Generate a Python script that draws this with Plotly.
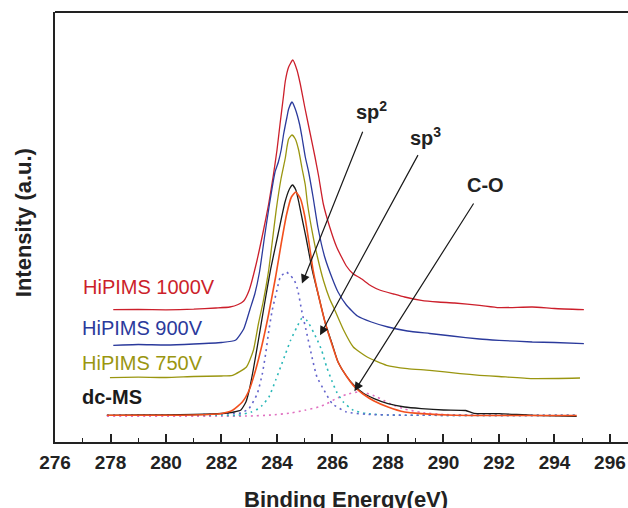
import plotly.graph_objects as go

# ---------------- data (binding energy in eV, intensity in a.u.) ----------------
e_1000 = [278.1, 279.0, 280.0, 281.0, 281.8, 282.3, 282.6, 282.8, 283.0, 283.25, 283.5, 283.7,
          283.87, 284.0, 284.11, 284.23, 284.3, 284.42, 284.57, 284.72, 284.84, 285.0, 285.2,
          285.37, 285.5, 285.67, 285.9, 286.15, 286.5, 286.75, 287.0, 287.4, 287.7, 288.2,
          288.6, 289.2, 289.8, 290.4, 291.3, 292.0, 293.2, 294.0, 295.06]
i_1000 = [132.4, 132.6, 132.2, 132.8, 134, 135, 137.5, 141, 152, 178, 210, 238,
          267, 292, 318, 345, 361, 375, 382, 372, 358, 335, 308,
          285, 266, 238, 215, 195, 176, 168, 164, 156, 152, 148,
          145, 141.7, 140, 139, 136.7, 134.4, 135, 133.5, 132.4]

e_900 = [278.1, 279.0, 280.0, 281.0, 282.0, 282.5, 282.8, 283.03, 283.2, 283.37, 283.55, 283.73,
         283.93, 284.05, 284.15, 284.24, 284.36, 284.42, 284.54, 284.66, 284.82, 284.9, 285.02,
         285.14, 285.3, 285.48, 285.72, 286.0, 286.2, 286.5, 286.9, 287.4, 288.0, 288.7,
         289.5, 290.3, 291.3, 292.0, 293.2, 294.0, 295.06]
i_900 = [96.7, 97.5, 97, 98, 99.5, 101.7, 113, 133, 148, 170, 205, 238,
         270, 280, 292, 308, 325, 333, 340, 333, 317, 305, 285,
         270, 245, 214, 185, 163, 150, 137, 126, 120, 115, 111,
         108.5, 106, 103, 101.7, 100, 99.5, 98.4]

e_750 = [277.98, 279.0, 280.0, 281.0, 282.0, 282.4, 282.9, 283.15, 283.33, 283.5, 283.7, 283.82,
         283.97, 284.15, 284.3, 284.36, 284.42, 284.54, 284.66, 284.78, 284.9, 285.02, 285.1,
         285.26, 285.45, 285.68, 285.9, 286.05, 286.4, 286.75, 287.25, 287.95, 288.7, 289.5,
         290.6, 291.3, 292.0, 293.2, 294.92]
i_750 = [64.4, 64.8, 64.5, 65.5, 66, 66.7, 75, 91.7, 118, 140, 171.7, 198,
         231.7, 264, 284, 295, 303, 307, 303, 292, 274, 257, 238,
         211.7, 186, 161, 143, 134, 112, 95, 85, 76.7, 73.4, 71.7,
         68.4, 66.7, 65.5, 63.4, 64]

e_dc = [277.87, 279.0, 280.0, 281.0, 282.0, 282.45, 282.7, 282.88, 283.0, 283.15, 283.35, 283.55,
        283.78, 284.04, 284.29, 284.45, 284.56, 284.68, 284.8, 284.93, 285.05, 285.27, 285.5,
        285.75, 286.0, 286.2, 286.5, 286.8, 287.1, 287.5, 288.0, 288.6, 289.2, 290.0, 290.8,
        291.1, 292.0, 293.2, 294.8]
i_dc = [26.7, 27, 27.2, 27.5, 28.5, 30, 32, 40, 52, 73, 105, 138,
        174, 208, 240, 253, 257, 252, 238, 220, 204, 172, 146,
        118, 97, 80, 66, 56, 49, 43.4, 38.4, 35, 33.4, 32, 31.5,
        28.6, 28.4, 26.7, 25.7]

e_fit = [277.87, 280.0, 281.0, 282.0, 282.4, 282.75, 283.0, 283.22, 283.46, 283.7, 283.95, 284.15,
         284.35, 284.52, 284.68, 284.85, 285.0, 285.15, 285.3, 285.5, 285.75, 286.0, 286.2,
         286.5, 286.8, 287.1, 287.5, 288.0, 288.6, 289.2, 290.4, 292.0, 294.8]
i_fit = [26.7, 26.8, 27, 28.5, 31.7, 40, 52, 71, 97, 128, 165, 198,
         228, 245, 250, 243, 226, 200, 172, 146, 118, 96, 80,
         66, 55, 48, 41, 35, 30, 28.4, 26.7, 26.5, 26.5]

e_sp2 = [277.87, 280.0, 281.5, 282.3, 282.7, 282.99, 283.29, 283.47, 283.59, 283.71, 283.83, 284.0,
         284.12, 284.33, 284.5, 284.62, 284.74, 284.9, 285.08, 285.26, 285.44, 285.7, 285.99,
         286.5, 287.2, 288.5, 294.8]
i_sp2 = [26.7, 26.8, 27.5, 28.5, 29, 33.4, 48.4, 68, 88, 112, 132, 152,
         165, 170, 166, 162, 153, 130, 108, 85, 65, 51.7, 38.4,
         30, 27.7, 26.8, 26.7]

e_sp3 = [277.87, 282.0, 282.6, 283.07, 283.31, 283.47, 283.71, 283.95, 284.13, 284.31, 284.49, 284.72,
         284.89, 285.07, 285.43, 285.61, 285.79, 285.97, 286.15, 286.39, 286.75, 287.23, 288.0, 294.8]
i_sp3 = [26.7, 26.7, 26.8, 30, 33, 36.7, 45, 61.7, 75, 88.4, 101.7, 115,
         123.4, 121.7, 103.4, 91.7, 75, 61.7, 50, 40, 31.7, 28.4, 27, 26.7]

e_co = [277.87, 282.0, 283.0, 283.8, 284.5, 285.0, 285.5, 285.8, 286.1, 286.5, 286.9, 287.2,
        287.6, 288.1, 288.6, 289.2, 290.0, 291.5, 294.8]
i_co = [25.8, 25.8, 26, 27, 29, 31.7, 35, 38.4, 43, 47.5, 50, 49,
        45, 38, 33, 29.5, 27.5, 26.7, 26.5]

x_ticks = [276, 278, 280, 282, 284, 286, 288, 290, 292, 294, 296]

series_labels = ["HiPIMS 1000V", "HiPIMS 900V", "HiPIMS 750V", "dc-MS"]
label_pos = [(276.95, 154.7), (276.9, 114), (276.9, 79.4), (276.9, 45)]

peak_labels = ["sp<sup>2</sup>", "sp<sup>3</sup>", "C-O"]
peak_text_pos = [(287.39, 331.5), (289.37, 305.5), (291.5, 256.7)]
arrow_tail = [(287.11, 311.7), (289.11, 288.4), (291.12, 240.0)]
arrow_tip = [(284.90, 158.4), (285.55, 106.7), (286.79, 50.7)]

# ---------------- style ----------------
C_RED = "#cc1f2b"
C_BLUE = "#2b3a9c"
C_OLIVE = "#9a9610"
C_BLACK = "#1a1a1a"
C_FIT = "#f2501e"
C_SP2 = "#6464cc"
C_SP3 = "#2ab8b8"
C_CO = "#e070c0"
FONT = "Liberation Sans, Arial, sans-serif"
AXIS_COLOR = "#222222"

fig = go.Figure()

def add_line(x, y, color, width=1.3, dash=None):
    fig.add_trace(go.Scatter(
        x=x, y=y, mode="lines", showlegend=False, hoverinfo="skip",
        line=dict(color=color, width=width, dash=dash, shape="spline", smoothing=0.5)))

add_line(e_co, i_co, C_CO, 1.6, "2px,4px")
add_line(e_sp3, i_sp3, C_SP3, 1.6, "2px,4px")
add_line(e_sp2, i_sp2, C_SP2, 1.6, "2px,4px")
add_line(e_1000, i_1000, C_RED)
add_line(e_900, i_900, C_BLUE)
add_line(e_750, i_750, C_OLIVE)
add_line(e_dc, i_dc, C_BLACK)
add_line(e_fit, i_fit, C_FIT, 1.6)

annotations = []
label_colors = [C_RED, C_BLUE, C_OLIVE, C_BLACK]
for txt, (lx, ly), col in zip(series_labels, label_pos, label_colors):
    bold = txt == "dc-MS"
    annotations.append(dict(
        x=lx, y=ly, xref="x", yref="y", text=f"<b>{txt}</b>" if bold else txt,
        showarrow=False, xanchor="left", yanchor="middle",
        font=dict(family=FONT, size=20, color=col)))

for txt, (tx, ty) in zip(peak_labels, peak_text_pos):
    annotations.append(dict(
        x=tx, y=ty, xref="x", yref="y", text=f"<b>{txt}</b>",
        showarrow=False, xanchor="center", yanchor="middle",
        font=dict(family=FONT, size=20, color="#222222")))

for (ax_, ay_), (tx, ty) in zip(arrow_tail, arrow_tip):
    annotations.append(dict(
        x=tx, y=ty, ax=ax_, ay=ay_, xref="x", yref="y", axref="x", ayref="y",
        text="", showarrow=True, arrowhead=2, arrowsize=1.5, arrowwidth=1.2,
        arrowcolor="#1a1a1a", standoff=0))

annotations.append(dict(
    x=0.508, y=-0.099, xref="paper", yref="paper", text="<b>Binding Energy(eV)</b>",
    showarrow=False, xanchor="center", yanchor="top",
    font=dict(family=FONT, size=22, color="#222222")))
annotations.append(dict(
    x=-0.056, y=0.511, xref="paper", yref="paper", text="<b>Intensity (a.u.)</b>",
    showarrow=False, xanchor="center", yanchor="middle", textangle=-90,
    font=dict(family=FONT, size=22, color="#222222")))

fig.update_layout(
    width=628, height=508,
    margin=dict(l=55, r=0, t=12, b=66),
    paper_bgcolor="white", plot_bgcolor="white",
    annotations=annotations,
    # top frame line only (no right-hand frame line, as in the reference)
    shapes=[dict(type="line", xref="paper", yref="paper", x0=0, x1=1, y0=1, y1=1,
                 line=dict(color=AXIS_COLOR, width=2))],
    xaxis=dict(
        range=[276, 296.65], tickmode="array", tickvals=x_ticks,
        ticktext=[f"<b>{v}</b>" for v in x_ticks],
        ticks="inside", ticklen=8, tickwidth=1.5, tickcolor=AXIS_COLOR,
        minor=dict(dtick=1, tick0=276, ticks="inside", ticklen=4, tickwidth=1.3, tickcolor=AXIS_COLOR),
        showline=True, linewidth=2, linecolor=AXIS_COLOR, mirror=False,
        showgrid=False, zeroline=False,
        tickfont=dict(family=FONT, size=19, color="#222222"),
        ticklabelstandoff=2,
    ),
    yaxis=dict(
        range=[0, 430], showticklabels=False, ticks="",
        showline=True, linewidth=2, linecolor=AXIS_COLOR, mirror=False,
        showgrid=False, zeroline=False,
    ),
)

# remove the default 8px page margin so the 628x508 figure fills the window exactly
fig.write_html(
    "out.html",
    config={"displayModeBar": False},
    post_script="document.body.style.margin='0';document.body.style.overflow='hidden';",
)
